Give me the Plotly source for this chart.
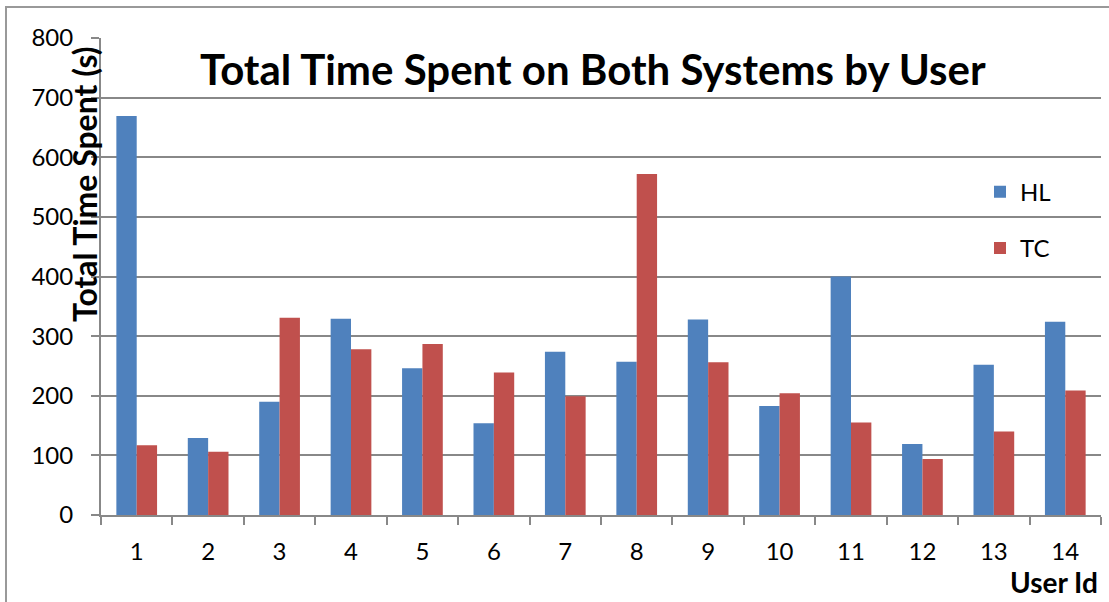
import plotly.graph_objects as go

users = [str(i) for i in range(1, 15)]
hl = [669, 129, 190, 329, 246, 154, 274, 257, 328, 183, 400, 119, 252, 324]
tc = [117, 106, 331, 278, 287, 239, 199, 572, 256, 204, 155, 94, 140, 209]

blue = "#4F81BD"
red = "#C0504D"
grid = "#888888"
font = "Lato"

fig = go.Figure()
fig.add_trace(go.Bar(x=users, y=hl, name="HL", marker_color=blue,
                     marker_line_width=0, legendgroup="a"))
fig.add_trace(go.Bar(x=users, y=tc, name="TC", marker_color=red,
                     marker_line_width=0, legendgroup="b"))

fig.update_layout(
    width=1109, height=602,
    margin=dict(l=101, r=8, t=38, b=87),
    paper_bgcolor="white", plot_bgcolor="white",
    barmode="group", bargap=0.43, bargroupgap=0,
    font=dict(family=font, size=24, color="black"),
    showlegend=True,
    legend=dict(x=0.879, y=0.724, xanchor="left", yanchor="top",
                bgcolor="rgba(0,0,0,0)", tracegroupgap=22,
                font=dict(size=24, family=font), itemwidth=30),
    xaxis=dict(type="category", range=[-0.5, 13.5], showline=True,
               linecolor=grid, linewidth=2, ticks="outside", tickson="boundaries",
               ticklen=8, tickwidth=2, tickcolor=grid, showgrid=False,
               ticklabelstandoff=14,
               tickfont=dict(size=24, family=font)),
    yaxis=dict(range=[0, 800], dtick=100, showline=True, linecolor=grid,
               linewidth=2, ticks="outside", ticklen=8, tickwidth=2, tickcolor=grid,
               showgrid=True, gridcolor=grid, gridwidth=2, zeroline=False,
               ticklabelstandoff=13,
               tickfont=dict(size=24, family=font)),
    shapes=[dict(type="rect", xref="paper", yref="paper",
                 x0=-0.095, x1=1.1, y0=-0.3, y1=1.065,
                 line=dict(color="#999999", width=2), layer="below")],
    annotations=[
        dict(text="<b>Total Time Spent on Both Systems by User</b>", xref="paper", yref="paper",
             x=0.492, y=0.935, xanchor="center", yanchor="middle", showarrow=False,
             font=dict(size=42, family=font)),
        dict(text="<b>Total Time Spent (s)</b>", xref="paper", yref="paper",
             x=-0.016, y=0.694, xanchor="center", yanchor="middle", showarrow=False,
             textangle=-90, font=dict(size=32, family=font)),
        dict(text="<b>User Id</b>", xref="paper", yref="paper",
             x=0.999, y=-0.14, xanchor="right", yanchor="middle", showarrow=False,
             font=dict(size=28, family=font)),
    ],
)

fig.write_html("out.html", config={"displayModeBar": False},
               post_script="document.body.style.margin='0';")
